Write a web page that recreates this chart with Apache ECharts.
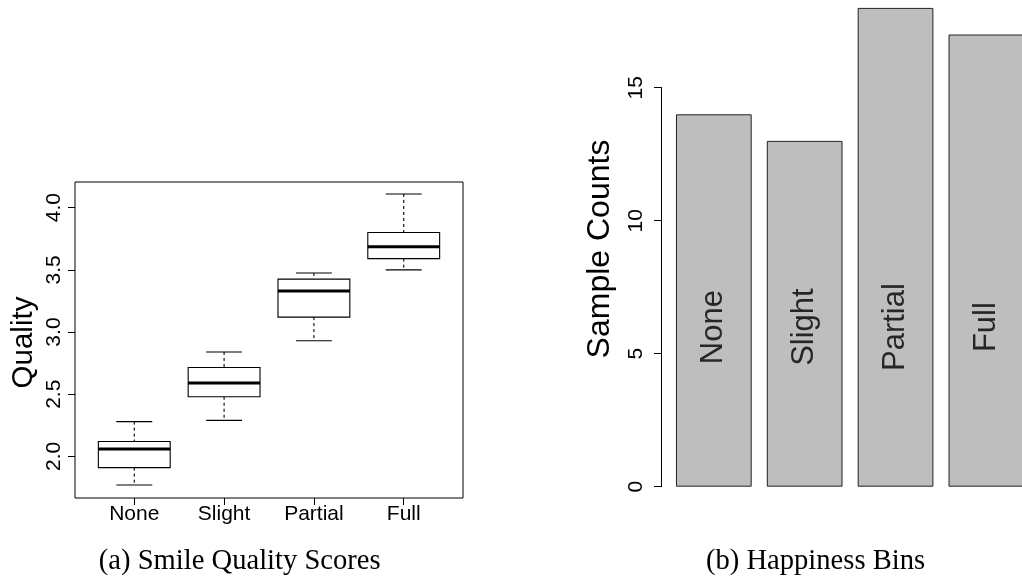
<!DOCTYPE html>
<html>
<head>
<meta charset="utf-8">
<script src="https://cdn.jsdelivr.net/npm/echarts@6/dist/echarts.min.js"></script>
<style>
html,body{margin:0;padding:0;background:#fff;}
#chart{width:1022px;height:580px;}
</style>
</head>
<body>
<div id="chart"></div>
<script>
// ---- data ----
const categories = ['None', 'Slight', 'Partial', 'Full'];
// boxplot stats per category
const lowerWhisker = [1.77, 2.29, 2.93, 3.50];
const q1 = [1.91, 2.48, 3.12, 3.59];
const median = [2.06, 2.59, 3.33, 3.685];
const q3 = [2.12, 2.715, 3.425, 3.80];
const upperWhisker = [2.28, 2.84, 3.475, 4.11];
const qualityTicks = [2.0, 2.5, 3.0, 3.5, 4.0];
// bar chart
const sampleCounts = [14, 13, 18, 17];
const countTicks = [0, 5, 10, 15];
const barLabelY = 6;

const FONT = '"Liberation Sans", Arial, Helvetica, sans-serif';
const SERIF = '"Liberation Serif", "Times New Roman", serif';

const chart = echarts.init(document.getElementById('chart'), null, {renderer: 'canvas'});

const boxData = categories.map((c, i) => [i + 1, lowerWhisker[i], q1[i], median[i], q3[i], upperWhisker[i]]);
const barData = sampleCounts.map((v, i) => [i + 1, v]);
const barLabelData = categories.map((c, i) => [i + 1, barLabelY, c]);

function renderBox(params, api) {
  const x = api.value(0);
  const lw = api.value(1), b1 = api.value(2), md = api.value(3), b3 = api.value(4), uw = api.value(5);
  const half = 0.4, cap = 0.2;
  const pL = api.coord([x - half, 0])[0];
  const pR = api.coord([x + half, 0])[0];
  const cL = api.coord([x - cap, 0])[0];
  const cR = api.coord([x + cap, 0])[0];
  const cx = api.coord([x, 0])[0];
  const yLw = api.coord([x, lw])[1];
  const yQ1 = api.coord([x, b1])[1];
  const yMd = api.coord([x, md])[1];
  const yQ3 = api.coord([x, b3])[1];
  const yUw = api.coord([x, uw])[1];
  const solid = {stroke: '#000', lineWidth: 1.1, fill: null};
  const dashed = {stroke: '#000', lineWidth: 1.1, lineDash: [3, 3], fill: null};
  return {
    type: 'group',
    children: [
      {type: 'line', shape: {x1: cx, y1: yUw, x2: cx, y2: yQ3}, style: dashed},
      {type: 'line', shape: {x1: cx, y1: yQ1, x2: cx, y2: yLw}, style: dashed},
      {type: 'line', shape: {x1: cL, y1: yUw, x2: cR, y2: yUw}, style: solid},
      {type: 'line', shape: {x1: cL, y1: yLw, x2: cR, y2: yLw}, style: solid},
      {type: 'rect', shape: {x: pL, y: yQ3, width: pR - pL, height: yQ1 - yQ3}, style: {stroke: '#000', lineWidth: 1.1, fill: '#fff'}},
      {type: 'line', shape: {x1: pL, y1: yMd, x2: pR, y2: yMd}, style: {stroke: '#000', lineWidth: 3}}
    ]
  };
}

// bar grid: 668.4 .. 1022 px, 90.85 px per category unit, first band starts at 0.5
const barGridLeft = 668.4;
const barUnit = 90.85;
const barXMax = 0.5 + (1022 - barGridLeft) / barUnit;

const option = {
  animation: false,
  backgroundColor: '#fff',
  textStyle: {fontFamily: FONT},
  grid: [
    {left: 75, right: 559, top: 182, bottom: 82, show: true, borderColor: '#000', borderWidth: 1, backgroundColor: 'transparent'},
    {left: barGridLeft, right: 0, top: 7.9, bottom: 93.3},
    {left: 661.7, width: 1, top: 87.7, bottom: 93.3}
  ],
  xAxis: [
    {
      gridIndex: 0, type: 'value', min: 0.34, max: 4.66,
      axisLine: {show: false},
      splitLine: {show: false},
      axisTick: {show: true, customValues: [1, 2, 3, 4], length: 7, lineStyle: {color: '#000'}},
      axisLabel: {show: true, customValues: [1, 2, 3, 4], margin: 6, fontSize: 21, color: '#000', fontFamily: FONT,
        formatter: v => categories[Math.round(v) - 1] || ''}
    },
    {gridIndex: 1, type: 'value', min: 0.5, max: barXMax, show: false},
    {gridIndex: 2, type: 'value', show: false}
  ],
  yAxis: [
    {
      gridIndex: 0, type: 'value', min: 1.666, max: 4.206,
      axisLine: {show: false},
      splitLine: {show: false},
      axisTick: {show: true, customValues: qualityTicks, length: 7, lineStyle: {color: '#000'}},
      axisLabel: {show: true, customValues: qualityTicks, rotate: 90, margin: 10, fontSize: 21, color: '#000', fontFamily: FONT,
        formatter: v => v.toFixed(1)}
    },
    {gridIndex: 1, type: 'value', min: 0, max: 18, show: false},
    {
      gridIndex: 2, type: 'value', min: 0, max: 15, interval: 5,
      axisLine: {show: true, lineStyle: {color: '#000', width: 1}},
      splitLine: {show: false},
      axisTick: {show: true, length: 7.7, lineStyle: {color: '#000'}},
      axisLabel: {show: true, rotate: 90, margin: 15, fontSize: 21, color: '#000', fontFamily: FONT,
        formatter: v => String(v)}
    }
  ],
  graphic: [
    {type: 'text', x: 24, y: 342.5, rotation: Math.PI / 2,
      style: {text: 'Quality', font: '29.5px ' + FONT, fill: '#000', align: 'center', verticalAlign: 'middle'}},
    {type: 'text', x: 600, y: 249, rotation: Math.PI / 2,
      style: {text: 'Sample Counts', font: '32px ' + FONT, fill: '#000', align: 'center', verticalAlign: 'middle'}},
    {type: 'text', x: 239.7, y: 561,
      style: {text: '(a) Smile Quality Scores', font: '28.6px ' + SERIF, fill: '#000', align: 'center', verticalAlign: 'middle'}},
    {type: 'text', x: 815.5, y: 561,
      style: {text: '(b) Happiness Bins', font: '28.6px ' + SERIF, fill: '#000', align: 'center', verticalAlign: 'middle'}}
  ],
  series: [
    {
      type: 'custom', xAxisIndex: 0, yAxisIndex: 0,
      renderItem: renderBox,
      encode: {x: 0, y: [1, 2, 3, 4, 5]},
      data: boxData,
      clip: false
    },
    {
      type: 'bar', xAxisIndex: 1, yAxisIndex: 1,
      data: barData,
      barWidth: 75.7,
      itemStyle: {color: '#BEBEBE', borderColor: '#222', borderWidth: 1},
      label: {show: false}
    },
    {
      type: 'scatter', xAxisIndex: 1, yAxisIndex: 1,
      symbolSize: 0,
      data: barLabelData,
      label: {show: true, position: 'inside', rotate: 90, fontSize: 31, color: '#000', fontFamily: FONT,
        formatter: p => p.data[2]}
    }
  ]
};
chart.setOption(option);
</script>
</body>
</html>
